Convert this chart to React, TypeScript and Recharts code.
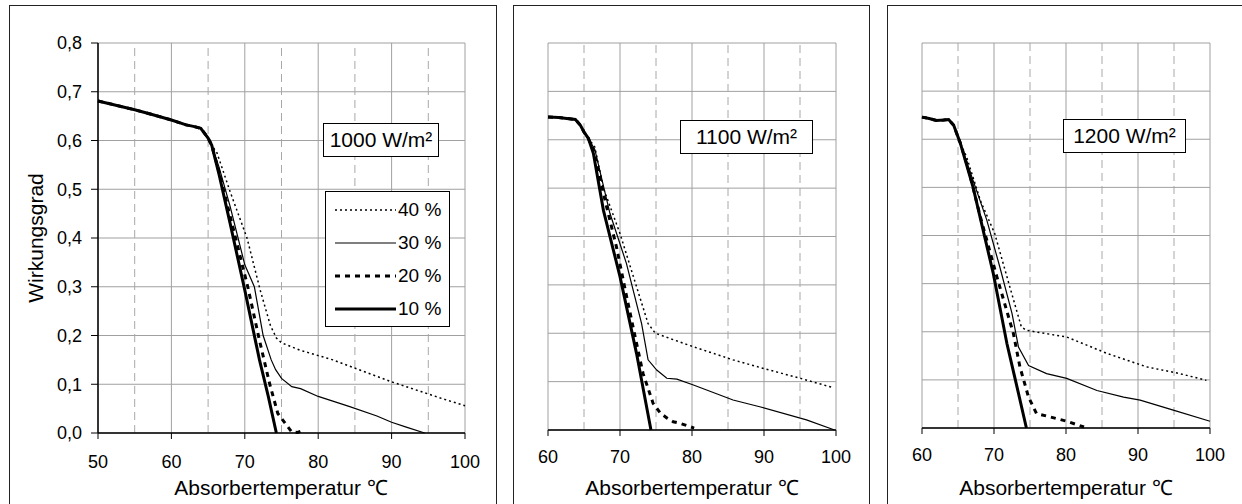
import { LineChart, Line, XAxis, YAxis, CartesianGrid, ReferenceLine } from 'recharts'

type Pt = { t: number; v: number }

const seriesNames = ['40 %', '30 %', '20 %', '10 %']
const yTicks = [0, 0.1, 0.2, 0.3, 0.4, 0.5, 0.6, 0.7, 0.8]
const xTicks1000 = [50, 60, 70, 80, 90, 100]
const xTicks = [60, 70, 80, 90, 100]
const dashed1000 = [55, 65, 75, 85, 95]
const dashed = [65, 75, 85, 95]

// 1000 W/m²
const start1000: Pt[] = [
  { t: 50, v: 0.681 }, { t: 52, v: 0.674 }, { t: 55, v: 0.663 }, { t: 57, v: 0.655 },
  { t: 60, v: 0.642 }, { t: 62, v: 0.632 }, { t: 63, v: 0.629 }, { t: 64, v: 0.625 },
  { t: 65, v: 0.605 }, { t: 65.5, v: 0.59 },
]
const s1000_40: Pt[] = [...start1000,
  { t: 66.2, v: 0.575 }, { t: 68, v: 0.495 }, { t: 70.3, v: 0.4 }, { t: 72.1, v: 0.293 },
  { t: 73.5, v: 0.22 }, { t: 74.3, v: 0.195 }, { t: 75, v: 0.185 }, { t: 77.5, v: 0.17 },
  { t: 82, v: 0.15 }, { t: 86.6, v: 0.124 }, { t: 90, v: 0.105 }, { t: 94, v: 0.085 },
  { t: 97, v: 0.07 }, { t: 100, v: 0.056 },
]
const s1000_30: Pt[] = [...start1000,
  { t: 66.5, v: 0.545 }, { t: 68, v: 0.465 }, { t: 70, v: 0.345 }, { t: 71.3, v: 0.3 },
  { t: 72.5, v: 0.2 }, { t: 73.6, v: 0.15 }, { t: 74.2, v: 0.13 }, { t: 75, v: 0.112 },
  { t: 76.4, v: 0.095 }, { t: 77.6, v: 0.091 }, { t: 80, v: 0.075 }, { t: 84.3, v: 0.054 },
  { t: 88, v: 0.035 }, { t: 90, v: 0.022 }, { t: 92, v: 0.012 }, { t: 94.5, v: 0 },
]
const s1000_20: Pt[] = [...start1000,
  { t: 66.5, v: 0.535 }, { t: 68, v: 0.445 }, { t: 70.4, v: 0.3 }, { t: 72, v: 0.19 },
  { t: 73.4, v: 0.1 }, { t: 74.5, v: 0.04 }, { t: 75.5, v: 0.02 }, { t: 76.4, v: 0.002 },
  { t: 77.2, v: 0.001 }, { t: 77.7, v: 0.004 }, { t: 78, v: 0.002 },
]
const s1000_10: Pt[] = [...start1000,
  { t: 66.5, v: 0.53 }, { t: 68, v: 0.43 }, { t: 70, v: 0.293 }, { t: 72, v: 0.15 },
  { t: 73.2, v: 0.075 }, { t: 74.3, v: 0 },
]

// 1100 W/m²
const start1100: Pt[] = [
  { t: 60, v: 0.647 }, { t: 61.5, v: 0.646 }, { t: 62.6, v: 0.644 }, { t: 63.8, v: 0.642 },
  { t: 64.5, v: 0.63 }, { t: 65, v: 0.616 }, { t: 65.6, v: 0.603 },
]
const s1100_40: Pt[] = [...start1100,
  { t: 66.5, v: 0.585 }, { t: 67.7, v: 0.5 }, { t: 70, v: 0.406 }, { t: 72.3, v: 0.296 },
  { t: 73.9, v: 0.22 }, { t: 74.9, v: 0.2 }, { t: 80.2, v: 0.172 }, { t: 85.7, v: 0.145 },
  { t: 90, v: 0.127 }, { t: 95, v: 0.107 }, { t: 99.5, v: 0.088 },
]
const s1100_30: Pt[] = [...start1100,
  { t: 66.5, v: 0.58 }, { t: 68.6, v: 0.448 }, { t: 70.9, v: 0.344 }, { t: 73, v: 0.22 },
  { t: 73.9, v: 0.145 }, { t: 75.1, v: 0.124 }, { t: 76.5, v: 0.107 }, { t: 77.9, v: 0.105 },
  { t: 80.2, v: 0.093 }, { t: 85.7, v: 0.062 }, { t: 89.4, v: 0.048 }, { t: 95.9, v: 0.021 },
  { t: 99.8, v: 0 },
]
const s1100_20: Pt[] = [...start1100,
  { t: 66.4, v: 0.575 }, { t: 68, v: 0.47 }, { t: 69.5, v: 0.379 }, { t: 71, v: 0.27 },
  { t: 72.3, v: 0.179 }, { t: 73.2, v: 0.117 }, { t: 74.6, v: 0.055 }, { t: 75.6, v: 0.035 },
  { t: 76.5, v: 0.025 }, { t: 77.4, v: 0.017 }, { t: 78.3, v: 0.014 }, { t: 79.5, v: 0.008 },
  { t: 80.3, v: 0.004 },
]
const s1100_10: Pt[] = [...start1100,
  { t: 66.3, v: 0.572 }, { t: 67.7, v: 0.454 }, { t: 70, v: 0.317 }, { t: 72.3, v: 0.158 },
  { t: 74.3, v: 0 },
]

// 1200 W/m²
const start1200: Pt[] = [
  { t: 60, v: 0.646 }, { t: 61, v: 0.643 }, { t: 62, v: 0.639 }, { t: 63, v: 0.64 },
  { t: 63.7, v: 0.641 }, { t: 64.4, v: 0.629 }, { t: 65.3, v: 0.593 },
]
const s1200_40: Pt[] = [...start1200,
  { t: 66.2, v: 0.563 }, { t: 68.1, v: 0.473 }, { t: 70.1, v: 0.404 }, { t: 72.2, v: 0.293 },
  { t: 73.8, v: 0.21 }, { t: 74.5, v: 0.203 }, { t: 80.1, v: 0.189 }, { t: 85.7, v: 0.155 },
  { t: 91.2, v: 0.127 }, { t: 95.8, v: 0.113 }, { t: 99.5, v: 0.099 },
]
const s1200_30: Pt[] = [...start1200,
  { t: 66.5, v: 0.54 }, { t: 69, v: 0.432 }, { t: 70.8, v: 0.335 }, { t: 72.5, v: 0.238 },
  { t: 73.4, v: 0.168 }, { t: 74.8, v: 0.13 }, { t: 77.3, v: 0.113 }, { t: 80.1, v: 0.103 },
  { t: 84.3, v: 0.078 }, { t: 88, v: 0.064 }, { t: 90.3, v: 0.058 }, { t: 94.9, v: 0.037 },
  { t: 100, v: 0.014 },
]
const s1200_20: Pt[] = [...start1200,
  { t: 66.5, v: 0.535 }, { t: 68.1, v: 0.439 }, { t: 70.4, v: 0.314 }, { t: 72.7, v: 0.196 },
  { t: 73.6, v: 0.127 }, { t: 74.8, v: 0.064 }, { t: 75.9, v: 0.03 }, { t: 77.8, v: 0.023 },
  { t: 80.1, v: 0.014 }, { t: 82.5, v: 0.002 },
]
const s1200_10: Pt[] = [...start1200,
  { t: 67.1, v: 0.5 }, { t: 69.9, v: 0.321 }, { t: 71.8, v: 0.175 }, { t: 73.2, v: 0.085 },
  { t: 74.5, v: 0 },
]

const lineStyle = [
  { width: 1.5, dash: '2 3' },
  { width: 1.2, dash: undefined },
  { width: 3, dash: '5 5' },
  { width: 3, dash: undefined },
]

const font = '"Liberation Sans", Arial, sans-serif'
const fmt = (v: number) => v.toFixed(1).replace('.', ',')

interface PanelProps {
  left: number
  width: number
  margin: { top: number; right: number; left: number; bottom: number }
  xTicks: number[]
  dashed: number[]
  series: Pt[][]
  showY: boolean
  tickMargin: number
}

function Panel({ left, width, margin, xTicks, dashed, series, showY, tickMargin }: PanelProps) {
  return (
    <div style={{ position: 'absolute', left, top: 6 }}>
      <LineChart width={width} height={497} margin={margin}>
        <CartesianGrid stroke="#a0a0a0" strokeWidth={1} />
        {dashed.map((x) => (
          <ReferenceLine key={x} x={x} stroke="#a8a8a8" strokeDasharray="8 5" />
        ))}
        <XAxis
          dataKey="t"
          type="number"
          domain={[xTicks[0], xTicks[xTicks.length - 1]]}
          ticks={xTicks}
          interval={0}
          tickSize={6}
          tickMargin={tickMargin}
          axisLine={{ stroke: '#000', strokeWidth: 1.5 }}
          tickLine={{ stroke: '#000' }}
          tick={{ fill: '#000', fontSize: 18, fontFamily: font }}
        />
        <YAxis
          hide={!showY}
          width={89}
          domain={[0, 0.8]}
          ticks={yTicks}
          interval={0}
          tickSize={7}
          tickMargin={9}
          tickFormatter={fmt}
          axisLine={{ stroke: '#000', strokeWidth: 1.5 }}
          tickLine={{ stroke: '#000' }}
          tick={{ fill: '#000', fontSize: 18, fontFamily: font }}
        />
        {series.map((d, i) => (
          <Line
            key={seriesNames[i]}
            data={d}
            dataKey="v"
            type="linear"
            stroke="#000"
            strokeWidth={lineStyle[i].width}
            strokeDasharray={lineStyle[i].dash}
            dot={false}
            isAnimationActive={false}
          />
        ))}
      </LineChart>
    </div>
  )
}

const frame = (left: number, width: number) => (
  <div
    style={{
      position: 'absolute', left, top: 5, width, height: 503,
      border: '1.5px solid #222', boxSizing: 'border-box',
    }}
  />
)

const box = (left: number, top: number, width: number, text: string) => (
  <div
    style={{
      position: 'absolute', left, top, width, height: 34, boxSizing: 'border-box',
      border: '1px solid #000', background: '#fff', fontSize: 21, lineHeight: '32px',
      textAlign: 'center', fontFamily: font,
    }}
  >
    {text}
  </div>
)

const xTitle = (center: number) => (
  <div
    style={{
      position: 'absolute', left: center - 150, top: 476, width: 300, textAlign: 'center',
      fontSize: 21, fontFamily: font, lineHeight: '24px',
    }}
  >
    Absorbertemperatur ℃
  </div>
)

export default function App() {
  return (
    <div style={{ position: 'absolute', left: 0, top: 0, width: 1242, height: 504, background: '#fff', overflow: 'hidden' }}>
      {frame(9, 488)}
      {frame(513, 357)}
      {frame(887, 360)}
      <Panel
        left={9} width={487} margin={{ top: 37, right: 31, left: 0, bottom: 40 }}
        xTicks={xTicks1000} dashed={dashed1000} showY tickMargin={16}
        series={[s1000_40, s1000_30, s1000_20, s1000_10]}
      />
      <Panel
        left={513} width={356} margin={{ top: 37, right: 33, left: 35, bottom: 43 }}
        xTicks={xTicks} dashed={dashed} showY={false} tickMargin={14}
        series={[s1100_40, s1100_30, s1100_20, s1100_10]}
      />
      <Panel
        left={887} width={354} margin={{ top: 37, right: 31, left: 35, bottom: 45 }}
        xTicks={xTicks} dashed={dashed} showY={false} tickMargin={14}
        series={[s1200_40, s1200_30, s1200_20, s1200_10]}
      />
      <div
        style={{
          position: 'absolute', left: 36, top: 238, transform: 'translate(-50%, -50%) rotate(-90deg)',
          fontSize: 21, fontFamily: font, whiteSpace: 'nowrap',
        }}
      >
        Wirkungsgrad
      </div>
      {xTitle(281)}
      {xTitle(692)}
      {xTitle(1066)}
      {box(323, 123, 116, '1000 W/m²')}
      {box(680, 120, 133, '1100 W/m²')}
      {box(1063, 119, 123, '1200 W/m²')}
      <div
        style={{
          position: 'absolute', left: 325, top: 191, width: 125, height: 136, boxSizing: 'border-box',
          border: '1px solid #000', background: '#fff', fontFamily: font, fontSize: 19,
        }}
      >
        {seriesNames.map((name, i) => (
          <div key={name} style={{ position: 'absolute', left: 9, top: 6 + i * 33, height: 24, display: 'flex', alignItems: 'center' }}>
            <svg width={61} height={10}>
              <line x1={0} y1={5} x2={61} y2={5} stroke="#000" strokeWidth={lineStyle[i].width} strokeDasharray={lineStyle[i].dash} />
            </svg>
            <span style={{ marginLeft: 2 }}>{name}</span>
          </div>
        ))}
      </div>
    </div>
  )
}
